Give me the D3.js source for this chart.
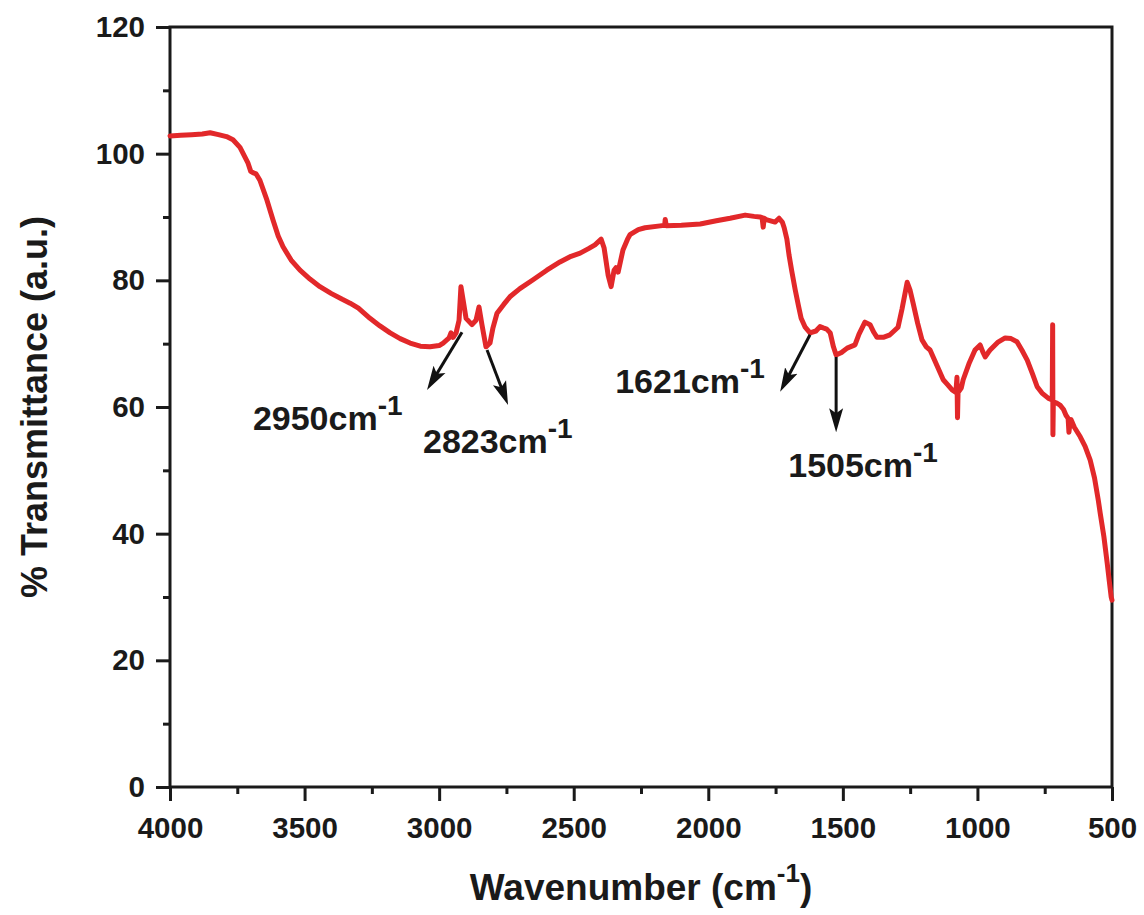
<!DOCTYPE html>
<html>
<head>
<meta charset="utf-8">
<script src="https://cdn.jsdelivr.net/npm/d3@7"></script>
<style>
    body { margin: 0; background: #fff; }
    text { font-family: Arial, 'Liberation Sans', sans-serif; font-weight: bold; fill: #1a1a1a; }
</style>
</head>
<body>
<div id="chart"></div>
<script>
// FTIR spectrum
const wavenumber = [
    4000, 3960, 3920, 3880, 3851, 3820, 3790, 3766, 3740, 3710,
    3700, 3692, 3680, 3666, 3640, 3617, 3598, 3580, 3550, 3517,
    3480, 3443, 3400, 3360, 3331, 3300, 3257, 3220, 3182, 3145,
    3108, 3070, 3034, 3000, 2985, 2963, 2956, 2948, 2937, 2926,
    2919, 2911, 2900, 2878, 2863, 2852, 2841, 2826, 2811, 2800,
    2785, 2760, 2737, 2700, 2651, 2600, 2551, 2510, 2476, 2445,
    2421, 2398, 2387, 2372, 2361, 2350, 2343, 2335, 2317, 2300,
    2291, 2260, 2235, 2179, 2162, 2160, 2156, 2100, 2030, 1970,
    1919, 1863, 1830, 1808, 1800, 1796, 1792, 1785, 1752, 1737,
    1725, 1718, 1708, 1700, 1690, 1677, 1665, 1655, 1640, 1622,
    1600, 1585, 1573, 1560, 1547, 1535, 1525, 1505, 1484, 1455,
    1440, 1418, 1399, 1385, 1373, 1350, 1325, 1295, 1280, 1261,
    1250, 1239, 1222, 1206, 1190, 1176, 1150, 1127, 1110, 1094,
    1080, 1076, 1074, 1072, 1060, 1053, 1030, 1009, 990, 980,
    971, 960, 953, 925, 897, 875, 853, 835, 815, 795,
    778, 760, 737, 722, 720.5, 719.5, 718, 705, 693, 680,
    671, 663, 660, 656, 652, 640, 618, 600, 581, 565,
    551, 544, 530, 518, 510, 503, 500
];
const transmittance = [
    102.8, 102.9, 103.0, 103.1, 103.3, 103.0, 102.7, 102.2, 101.0, 98.5,
    97.2, 97.0, 96.8, 95.8, 92.7, 89.5, 87.0, 85.3, 83.2, 81.6,
    80.2, 79.0, 77.9, 77.0, 76.4, 75.6, 74.0, 72.8, 71.7, 70.8,
    70.1, 69.6, 69.5, 69.7, 70.1, 70.9, 71.7, 71.0, 71.7, 73.7,
    79.0, 76.9, 74.0, 73.0, 73.7, 75.8, 73.0, 69.5, 70.1, 72.5,
    74.8, 76.2, 77.4, 78.7, 80.1, 81.6, 82.9, 83.8, 84.3, 85.0,
    85.6, 86.5, 85.1, 80.8, 79.0, 81.6, 82.0, 81.3, 84.8, 86.5,
    87.2, 88.0, 88.3, 88.6, 88.7, 89.6, 88.6, 88.7, 88.9, 89.4,
    89.8, 90.3, 90.1, 90.0, 89.9, 88.4, 89.8, 89.6, 89.2, 89.8,
    89.2, 88.3, 86.5, 84.0, 81.5, 78.5, 76.0, 74.0, 72.6, 71.7,
    72.0, 72.7, 72.5, 72.3, 71.7, 69.5, 68.2, 68.6, 69.3, 69.8,
    71.5, 73.4, 73.0, 71.8, 71.0, 71.0, 71.4, 72.6, 75.5, 79.7,
    78.4, 76.4, 73.2, 70.6, 69.5, 69.0, 66.5, 64.3, 63.5, 62.7,
    62.3, 64.7, 58.3, 62.3, 63.0, 64.3, 67.0, 69.0, 69.8, 68.7,
    67.9, 68.6, 69.0, 70.2, 70.9, 70.8, 70.3, 69.0, 67.4, 65.2,
    63.2, 62.2, 61.4, 61.1, 73.0, 55.6, 60.8, 60.6, 60.3, 59.6,
    58.7, 58.2, 56.0, 57.5, 58.0, 56.8, 55.3, 53.8, 51.6, 48.8,
    45.3, 43.3, 39.5, 35.4, 32.5, 30.0, 29.5
];

const xTicks = [4000, 3500, 3000, 2500, 2000, 1500, 1000, 500];
const xMinorTicks = [3750, 3250, 2750, 2250, 1750, 1250, 750];
const yTicks = [0, 20, 40, 60, 80, 100, 120];
const yMinorTicks = [10, 30, 50, 70, 90, 110];

// peak annotations
const peakLabels = ['2950', '2823', '1621', '1505'];
const arrowFromWn = [2915, 2822, 1622, 1525];
const arrowFromT = [71.8, 69.0, 71.4, 67.9];
const arrowToWn = [3045, 2744, 1733, 1525];
const arrowToT = [62.7, 60.3, 62.4, 56.0];
const labelWn = [3692, 3060, 2346, 1703];
const labelT = [56.4, 52.7, 62.2, 48.9];

const width = 1144;
const height = 915;
const margin = { top: 27, right: 32, bottom: 128, left: 170 };

const svg = d3.select('#chart')
    .append('svg')
    .attr('width', width)
    .attr('height', height);

svg.append('rect').attr('width', width).attr('height', height).attr('fill', '#fff');

const x = d3.scaleLinear()
    .domain([4000, 500])
    .range([margin.left, width - margin.right]);

const y = d3.scaleLinear()
    .domain([0, 120])
    .range([height - margin.bottom, margin.top]);

const axisColor = '#1a1a1a';

// axes
const xAxis = svg.append('g')
    .attr('transform', `translate(0,${y(0)})`)
    .call(d3.axisBottom(x).tickValues(xTicks).tickSize(14).tickSizeOuter(0).tickPadding(16).tickFormat(d3.format('d')));
const xMinor = svg.append('g')
    .attr('transform', `translate(0,${y(0)})`)
    .call(d3.axisBottom(x).tickValues(xMinorTicks).tickSize(7).tickSizeOuter(0).tickFormat(''));
const yAxis = svg.append('g')
    .attr('transform', `translate(${x(4000)},0)`)
    .call(d3.axisLeft(y).tickValues(yTicks).tickSize(14).tickSizeOuter(0).tickPadding(11).tickFormat(d3.format('d')));
const yMinor = svg.append('g')
    .attr('transform', `translate(${x(4000)},0)`)
    .call(d3.axisLeft(y).tickValues(yMinorTicks).tickSize(7).tickSizeOuter(0).tickFormat(''));

[xAxis, xMinor, yAxis, yMinor].forEach(g => {
    g.select('.domain').remove();
    g.selectAll('line').attr('stroke', axisColor).attr('stroke-width', 3);
    g.selectAll('text').style('font-size', '29.5px').attr('fill', axisColor);
});

// frame
svg.append('rect')
    .attr('x', x(4000))
    .attr('y', y(120))
    .attr('width', x(500) - x(4000))
    .attr('height', y(0) - y(120))
    .attr('fill', 'none')
    .attr('stroke', axisColor)
    .attr('stroke-width', 3);

// spectrum
const line = d3.line()
    .x((d, i) => x(wavenumber[i]))
    .y((d, i) => y(transmittance[i]));

svg.append('path')
    .datum(wavenumber)
    .attr('d', line)
    .attr('fill', 'none')
    .attr('stroke', '#e2282a')
    .attr('stroke-width', 5)
    .attr('stroke-linejoin', 'round')
    .attr('stroke-linecap', 'round');

// arrows
svg.append('defs').append('marker')
    .attr('id', 'arrow')
    .attr('markerUnits', 'userSpaceOnUse')
    .attr('viewBox', '0 -8 24 16')
    .attr('refX', 14)
    .attr('refY', 0)
    .attr('markerWidth', 24)
    .attr('markerHeight', 16)
    .attr('orient', 'auto')
    .append('path')
    .attr('d', 'M0,-7L24,0L0,7L5,0Z')
    .attr('fill', '#111');

peakLabels.forEach((label, i) => {
    const x1 = x(arrowFromWn[i]), y1 = y(arrowFromT[i]);
    const x2 = x(arrowToWn[i]), y2 = y(arrowToT[i]);
    const len = Math.hypot(x2 - x1, y2 - y1);
    const k = (len - 10) / len;
    svg.append('line')
        .attr('x1', x1).attr('y1', y1)
        .attr('x2', x1 + (x2 - x1) * k).attr('y2', y1 + (y2 - y1) * k)
        .attr('stroke', '#111')
        .attr('stroke-width', 3)
        .attr('marker-end', 'url(#arrow)');

    const t = svg.append('text')
        .attr('x', x(labelWn[i]))
        .attr('y', y(labelT[i]))
        .style('font-size', '34px');
    t.append('tspan').text(label + 'cm');
    t.append('tspan').attr('dy', -15).style('font-size', '28px').text('-1');
});

// axis titles
const xt = svg.append('text')
    .attr('x', (x(4000) + x(500)) / 2)
    .attr('y', 900)
    .attr('text-anchor', 'middle')
    .style('font-size', '37px');
xt.append('tspan').text('Wavenumber (cm');
xt.append('tspan').attr('dy', -18).style('font-size', '26px').text('-1');
xt.append('tspan').attr('dy', 18).text(')');

svg.append('text')
    .attr('transform', `translate(47,${(y(0) + y(120)) / 2}) rotate(-90)`)
    .attr('text-anchor', 'middle')
    .style('font-size', '36px')
    .text('% Transmittance (a.u.)');
</script>
</body>
</html>
